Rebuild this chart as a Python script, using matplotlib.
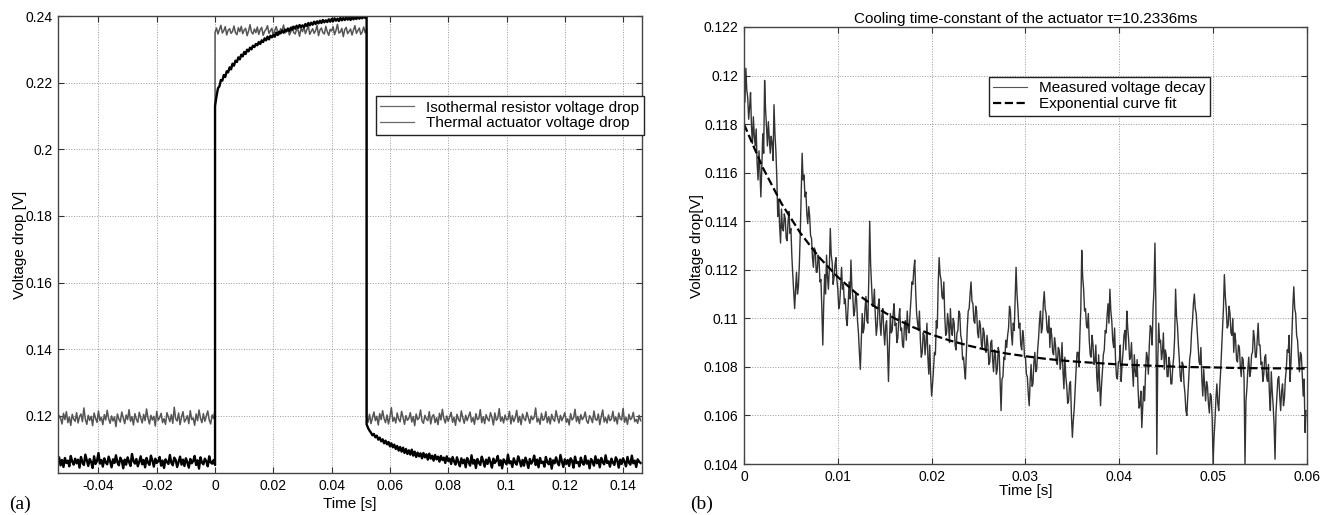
import numpy as np
import matplotlib
matplotlib.use("Agg")
import matplotlib.pyplot as plt
from matplotlib.ticker import FuncFormatter, MultipleLocator

plt.rcParams['font.family'] = ['Liberation Sans', 'DejaVu Sans']

# ---- (a) step response, values in mV, 0.5 ms sampling ----
# three segments: before heating / heating / after
t_pre = np.linspace(-0.054, 0.0, 109)
t_on = np.linspace(0.0, 0.052, 105)
t_off = np.linspace(0.052, 0.146, 189)

iso_pre = [118.2, 120.1, 119.4, 117.6, 120.8, 118.9, 121.3, 118.0, 119.7, 117.2,
           120.5, 119.1, 118.4, 121.0, 117.9, 119.8, 120.6, 118.3, 122.4, 119.0,
           117.5, 120.2, 118.7, 119.9, 117.1, 120.9, 119.3, 118.1, 121.5, 118.6,
           119.6, 117.4, 120.4, 118.8, 121.7, 119.2, 117.8, 120.0, 118.5, 119.7,
           116.8, 120.6, 119.1, 118.2, 121.2, 119.5, 117.7, 120.3, 118.9, 121.9,
           118.4, 119.8, 117.3, 120.7, 119.0, 118.1, 121.1, 119.4, 117.9, 120.5,
           118.6, 122.1, 119.3, 117.6, 120.2, 118.8, 119.9, 117.0, 121.4, 118.7,
           119.5, 120.8, 118.0, 119.2, 117.5, 121.0, 119.6, 118.3, 120.4, 117.8,
           122.6, 119.1, 118.5, 120.9, 117.4, 119.7, 121.3, 118.2, 119.0, 120.1,
           117.7, 121.6, 118.9, 119.4, 117.2, 120.6, 118.6, 121.8, 119.3, 118.0,
           120.7, 118.4, 119.9, 121.5, 118.8, 117.6, 120.3, 119.2, 122.0]
iso_on = [235.1, 236.4, 234.6, 235.9, 237.2, 234.9, 235.6, 236.8, 234.3, 235.7,
          236.2, 234.8, 235.4, 237.0, 235.0, 234.4, 236.5, 235.3, 236.9, 234.7,
          235.8, 236.3, 234.1, 235.5, 237.4, 235.2, 234.6, 236.1, 235.0, 236.7,
          234.5, 235.9, 236.6, 234.2, 235.4, 236.0, 237.1, 234.8, 235.6, 236.3,
          234.0, 235.7, 236.8, 235.1, 234.4, 236.2, 235.5, 237.3, 234.9, 235.8,
          236.4, 234.3, 235.2, 236.9, 235.0, 234.6, 236.1, 235.7, 233.9, 236.5,
          235.3, 236.7, 234.7, 235.9, 237.0, 234.5, 235.4, 236.2, 234.8, 235.6,
          237.2, 234.1, 235.8, 236.4, 235.0, 234.6, 236.9, 235.3, 234.2, 236.0,
          235.5, 236.8, 234.4, 235.7, 237.5, 234.9, 235.2, 236.3, 233.8, 235.9,
          236.6, 234.7, 235.4, 236.1, 234.3, 235.8, 237.1, 234.8, 235.6, 236.4,
          234.5, 235.2, 236.7, 235.0, 236.0]
iso_off = [119.8, 118.1, 120.5, 117.7, 119.4, 121.2, 118.6, 119.9, 117.3, 120.7,
           118.9, 121.6, 119.2, 118.0, 120.3, 117.6, 119.7, 122.5, 118.4, 119.5,
           117.9, 120.9, 119.0, 118.3, 121.4, 119.6, 117.5, 120.1, 118.7, 119.3,
           121.0, 118.2, 119.8, 117.1, 120.6, 118.9, 119.4, 121.8, 118.5, 117.8,
           120.2, 119.1, 118.6, 121.3, 117.6, 119.9, 120.4, 118.0, 119.5, 117.4,
           120.8, 118.8, 122.0, 119.3, 117.9, 120.0, 118.4, 119.7, 121.1, 118.1,
           119.6, 117.2, 120.5, 119.0, 118.3, 121.5, 119.4, 117.8, 120.2, 118.6,
           119.9, 121.2, 118.2, 119.5, 117.5, 120.7, 118.9, 119.2, 121.9, 118.0,
           119.8, 117.7, 120.4, 119.1, 118.5, 121.0, 119.6, 117.3, 120.9, 118.7,
           119.3, 122.2, 118.4, 119.7, 117.9, 120.3, 118.8, 119.0, 121.4, 117.6,
           120.1, 118.3, 119.5, 121.7, 118.1, 119.9, 117.4, 120.6, 119.2, 118.6,
           121.1, 119.4, 117.8, 120.0, 118.9, 119.6, 122.4, 118.2, 119.3, 117.5,
           120.8, 118.7, 119.1, 121.3, 118.0, 119.8, 117.6, 120.5, 119.0, 118.4,
           121.6, 119.5, 117.9, 120.2, 118.6, 119.7, 121.0, 118.1, 119.2, 117.3,
           120.7, 118.8, 119.4, 122.0, 118.3, 119.9, 117.7, 120.4, 118.9, 119.6,
           121.2, 118.5, 117.8, 120.1, 119.3, 118.0, 121.5, 119.0, 118.7, 120.6,
           117.4, 119.8, 121.8, 118.2, 119.5, 117.9, 120.3, 118.6, 119.1, 121.4,
           118.4, 119.7, 117.6, 120.9, 119.2, 118.8, 122.3, 118.1, 119.6, 117.5,
           120.5, 118.9, 119.4, 121.1, 118.3, 119.0, 117.8, 120.2, 118.6]

act_pre = [106.0, 107.6, 105.2, 106.8, 104.7, 107.4, 105.9, 106.6, 104.9, 108.0,
           106.3, 105.4, 107.2, 105.8, 106.9, 104.5, 107.7, 106.1, 105.3, 108.4,
           106.7, 105.0, 107.1, 106.2, 104.4, 107.9, 105.6, 106.5, 108.9, 105.7,
           106.8, 104.8, 107.3, 106.0, 105.5, 107.8, 106.4, 104.6, 107.0, 105.9,
           108.2, 106.1, 105.2, 107.5, 106.6, 104.3, 106.9, 105.4, 107.6, 106.2,
           105.0, 108.6, 106.5, 105.7, 107.1, 104.9, 106.3, 107.9, 105.5, 106.8,
           104.6, 107.4, 106.0, 105.3, 108.1, 106.7, 104.8, 107.2, 105.9, 106.4,
           107.7, 105.1, 106.6, 104.4, 107.0, 106.2, 105.6, 108.3, 106.0, 105.2,
           107.5, 106.8, 104.7, 106.3, 107.8, 105.4, 106.9, 105.0, 107.3, 106.1,
           104.5, 107.1, 105.8, 106.5, 108.0, 105.3, 106.7, 104.2, 107.6, 106.0,
           105.5, 107.2, 106.4, 104.9, 107.9, 106.1, 105.7, 106.8, 105.3]
act_on = [213.0, 215.9, 218.3, 218.9, 220.8, 220.6, 222.3, 221.7, 223.4, 223.1,
          224.6, 224.0, 225.7, 225.1, 226.6, 226.2, 227.6, 227.0, 228.4, 227.9,
          229.2, 228.6, 229.9, 229.4, 230.5, 230.0, 231.1, 230.7, 231.6, 231.2,
          232.2, 231.6, 232.7, 232.2, 233.3, 232.7, 233.8, 233.0, 234.1, 233.6,
          234.3, 233.8, 235.0, 234.3, 235.3, 234.8, 235.6, 235.0, 235.9, 235.4,
          236.2, 235.5, 236.5, 235.9, 236.8, 236.2, 237.1, 236.4, 237.3, 236.7,
          237.2, 236.6, 237.6, 237.0, 237.9, 237.2, 238.0, 237.4, 238.3, 237.6,
          238.4, 237.8, 238.6, 237.9, 238.8, 238.1, 238.7, 238.2, 239.0, 238.3,
          239.1, 238.4, 239.3, 238.6, 239.2, 238.5, 239.5, 238.7, 239.4, 238.8,
          239.6, 238.9, 239.5, 238.8, 239.8, 239.0, 239.6, 239.1, 239.9, 239.2,
          239.7, 239.3, 240.0, 239.4, 239.8]
act_off = [117.5, 116.4, 115.6, 115.0, 114.2, 114.6, 113.6, 114.1, 112.9, 113.5,
           112.4, 113.0, 111.8, 112.6, 111.5, 112.2, 110.9, 111.8, 110.6, 111.4,
           110.1, 111.0, 109.6, 110.7, 109.3, 110.5, 108.9, 110.1, 108.6, 109.7,
           108.4, 109.9, 108.1, 109.3, 107.7, 109.0, 107.9, 108.8, 107.3, 108.9,
           107.6, 108.5, 106.9, 108.7, 107.2, 108.1, 106.6, 108.3, 107.0, 107.8,
           106.3, 108.0, 106.8, 107.5, 105.9, 107.9, 106.5, 107.2, 105.6, 107.7,
           106.4, 105.4, 107.6, 106.1, 104.9, 107.3, 105.8, 106.9, 104.6, 107.4,
           106.2, 105.1, 108.2, 105.7, 106.8, 104.4, 107.1, 106.0, 105.3, 107.8,
           106.5, 104.8, 106.9, 105.6, 107.5, 106.1, 104.5, 107.2, 105.9, 106.6,
           108.0, 105.2, 106.7, 104.3, 107.0, 106.3, 105.5, 108.4, 105.8, 106.4,
           104.7, 107.3, 106.0, 105.4, 107.9, 106.6, 104.9, 106.8, 105.1, 107.5,
           106.2, 104.4, 107.1, 105.7, 106.5, 108.1, 105.3, 106.9, 104.6, 107.4,
           105.9, 106.3, 104.8, 107.7, 106.1, 105.5, 107.2, 104.2, 106.7, 105.8,
           107.6, 106.0, 105.2, 108.3, 106.4, 104.7, 107.0, 105.6, 106.8, 105.0,
           107.3, 106.5, 104.5, 107.8, 105.9, 106.2, 104.9, 107.5, 106.0, 105.4,
           108.0, 105.7, 106.6, 104.3, 107.1, 106.3, 105.1, 107.9, 105.8, 106.9,
           104.6, 107.4, 106.1, 105.5, 108.2, 105.9, 106.4, 104.8, 107.2, 106.0,
           105.3, 107.6, 106.7, 104.5, 106.9, 105.6, 107.3, 106.2, 104.9, 107.7,
           106.0, 105.4, 108.1, 105.8, 106.6, 104.7, 107.0, 106.3, 105.9]

# ---- (b) cooling decay, values in mV, 0.1 ms sampling ----
decay_mv = [
    119.6, 118.9, 120.3, 119.4, 119.1, 118.2, 118.7, 119.3, 117.9, 117.2,
    118.3, 117.5, 117.1, 117.8, 116.4, 115.7, 116.9, 116.1, 115.0, 116.2,
    117.6, 116.8, 119.8, 118.6, 117.9, 117.1, 118.1, 117.4, 116.8, 117.5,
    117.2, 116.5, 118.8, 117.6, 116.9, 115.8, 114.2, 114.9, 113.8, 113.1,
    114.5, 113.7, 113.6, 114.3, 114.1, 113.3, 113.2, 114.0, 114.4, 113.5,
    113.7, 112.6, 111.8, 111.1, 110.4, 111.2, 111.9, 111.0, 111.3, 112.2,
    113.5, 115.2, 116.8, 115.7, 115.9, 115.0, 115.2, 114.3, 113.9, 114.6,
    114.2, 113.4, 113.3, 112.5, 112.1, 112.9, 112.8, 111.9, 111.9, 112.6,
    112.4, 111.5, 111.6, 110.4, 108.9, 110.6, 111.8, 111.0, 112.6, 111.7,
    111.2, 112.1, 113.7, 112.6, 112.3, 111.4, 111.7, 112.2, 112.5, 111.6,
    111.2, 110.4, 110.6, 111.3, 112.1, 111.2, 111.4, 110.6, 110.8, 110.0,
    109.7, 110.5, 111.5, 110.8, 112.4, 111.3, 110.9, 110.1, 110.3, 111.0,
    110.8, 109.9, 109.4, 108.6, 107.9, 109.1, 110.2, 109.4, 109.6, 110.4,
    110.9, 109.9, 109.8, 111.6, 114.0, 112.2, 111.3, 110.5, 110.6, 111.2,
    110.1, 109.3, 109.7, 110.5, 110.8, 109.8, 109.3, 110.1, 110.4, 109.5,
    108.9, 109.7, 109.9, 108.8, 107.4, 108.9, 110.2, 109.4, 109.5, 110.2,
    110.6, 109.7, 109.8, 109.0, 109.2, 110.0, 110.4, 109.5, 109.6, 108.9,
    108.8, 109.7, 109.9, 109.1, 110.3, 109.6, 109.4, 110.2, 110.8, 111.5,
    111.4, 112.0, 112.4, 111.1, 110.2, 109.8, 109.5, 110.3, 109.1, 108.4,
    108.6, 109.4, 109.3, 108.5, 109.0, 109.8, 108.4, 107.7, 108.9, 107.6,
    106.8, 107.3, 107.9, 108.6, 108.5, 109.9, 109.6, 111.4, 112.5, 111.8,
    111.6, 110.9, 110.8, 111.5, 110.1, 109.3, 109.4, 110.2, 109.8, 109.0,
    110.4, 109.6, 109.3, 110.0, 109.8, 108.9, 108.7, 109.4, 109.5, 110.3,
    110.2, 109.3, 109.1, 108.3, 108.4, 107.9, 107.5, 108.6, 109.6, 110.3,
    110.4, 111.0, 111.5, 110.7, 110.6, 109.9, 109.8, 110.5, 110.3, 109.4,
    109.2, 109.9, 109.7, 108.9, 108.8, 109.6, 109.4, 108.7, 108.6, 109.3,
    108.9, 108.1, 108.2, 109.0, 109.1, 108.3, 107.8, 108.7, 108.5, 107.7,
    107.9, 108.8, 108.6, 107.4, 106.2, 107.5, 107.6, 108.4, 108.3, 109.1,
    108.8, 109.3, 109.6, 110.5, 110.3, 109.4, 108.9, 109.8, 109.5, 110.8,
    112.1, 111.0, 110.4, 109.6, 109.8, 108.9, 108.7, 109.5, 109.2, 108.4,
    108.4, 107.7, 107.6, 106.9, 106.4, 107.4, 108.1, 107.2, 107.3, 108.2,
    108.6, 107.8, 107.9, 108.7, 109.2, 109.9, 110.3, 109.4, 109.6, 110.6,
    111.1, 110.4, 110.2, 109.5, 109.4, 110.1, 108.8, 109.6, 109.3, 108.6,
    108.5, 109.2, 108.9, 108.2, 108.1, 108.8, 108.7, 107.9, 108.3, 109.0,
    107.8, 107.1, 108.4, 107.6, 107.2, 106.5, 106.6, 107.3, 107.4, 106.0,
    105.1, 105.8, 106.3, 107.1, 107.9, 108.6, 108.6, 108.0, 109.3, 110.4,
    112.8, 111.7, 111.2, 110.3, 110.4, 109.7, 109.6, 110.2, 109.1, 108.5,
    108.4, 109.3, 108.9, 108.1, 108.2, 108.9, 107.6, 107.0, 108.5, 107.4,
    106.4, 107.2, 107.8, 108.5, 108.7, 109.5, 109.4, 110.1, 110.6, 109.8,
    111.2, 110.3, 109.9, 109.1, 108.8, 109.6, 108.3, 107.6, 107.5, 108.2,
    108.2, 108.9, 107.4, 108.1, 108.6, 109.3, 109.5, 108.7, 110.3, 109.6,
    109.1, 108.3, 108.4, 109.0, 107.9, 107.2, 108.5, 107.8, 107.6, 108.3,
    107.1, 106.3, 106.4, 107.0, 105.5, 106.4, 107.2, 106.6, 107.8, 108.6,
    108.4, 107.7, 108.9, 109.7, 109.6, 108.9, 110.4, 111.2, 113.1, 110.6,
    104.4, 108.2, 109.8, 109.0, 109.1, 108.3, 108.6, 109.4, 107.9, 108.7,
    108.5, 107.6, 107.6, 108.4, 108.1, 107.3, 107.3, 108.0, 108.4, 109.2,
    111.2, 110.1, 109.7, 108.9, 108.3, 107.6, 107.4, 108.2, 108.1, 107.3,
    106.9, 106.2, 106.0, 106.8, 107.5, 108.3, 108.6, 109.4, 109.9, 110.6,
    111.0, 110.4, 110.2, 109.5, 108.9, 108.2, 108.1, 108.8, 107.5, 106.8,
    107.9, 107.2, 106.6, 107.4, 107.2, 106.5, 106.1, 106.9, 106.8, 105.9,
    104.0, 105.1, 105.8, 106.7, 107.3, 106.5, 106.2, 107.1, 107.8, 108.7,
    109.5, 110.4, 111.8, 110.9, 110.4, 109.6, 109.7, 110.5, 110.2, 109.4,
    109.3, 110.0, 108.6, 109.4, 109.1, 108.3, 108.2, 108.9, 108.8, 108.0,
    107.6, 108.4, 108.3, 107.5, 104.0, 106.6, 107.1, 107.9, 108.4, 107.6,
    107.8, 108.5, 108.6, 109.5, 109.2, 108.4, 108.4, 109.1, 109.8, 108.9,
    108.9, 108.1, 108.2, 107.4, 107.7, 108.4, 108.5, 107.6, 107.4, 108.1,
    106.9, 106.2, 107.8, 107.0, 106.4, 105.6, 104.2, 106.1, 106.8, 107.5,
    107.6, 106.8, 106.2, 107.0, 107.3, 106.4, 106.7, 107.5, 107.9, 108.7,
    108.6, 109.3, 107.4, 108.2, 109.4, 110.5, 111.3, 110.4, 110.2, 109.3,
    109.1, 108.4, 107.8, 108.6, 108.5, 107.7, 106.8, 107.5, 105.3, 106.2]
t_decay = np.linspace(0.0, 0.0599, len(decay_mv))

# exponential fit read at 2 ms steps
fit_mv = [118.00, 116.21, 114.73, 113.52, 112.52, 111.70, 111.02, 110.47,
          110.01, 109.64, 109.33, 109.08, 108.87, 108.69, 108.55, 108.44,
          108.34, 108.26, 108.20, 108.15, 108.10, 108.07, 108.04, 108.01,
          107.99, 107.98, 107.96, 107.95, 107.94, 107.94, 107.93]
t_fit = np.linspace(0.0, 0.06, len(fit_mv))

t_a = np.concatenate([t_pre, t_on, t_off])
iso = np.array(iso_pre + iso_on + iso_off) / 1000
act = np.array(act_pre + act_on + act_off) / 1000

fig = plt.figure(figsize=(13.29, 5.15), dpi=100)
ax1 = fig.add_axes([0.0436, 0.0816, 0.4395, 0.8873])
ax2 = fig.add_axes([0.5598, 0.099, 0.4236, 0.8486])

fmt = FuncFormatter(lambda v, p: '%g' % round(v, 6))

def style(ax):
    ax.grid(True, linestyle=':', color='#999999', linewidth=0.7)
    ax.tick_params(direction='in', top=True, right=True, labelsize=10,
                   length=4, width=0.8, color='#333333', pad=4)
    for s in ax.spines.values():
        s.set_color('#444444')
        s.set_linewidth(1.0)
    ax.xaxis.set_major_formatter(fmt)
    ax.yaxis.set_major_formatter(fmt)

ax1.plot(t_a, iso, color='#555555', linewidth=1.1, label='Isothermal resistor voltage drop')
ax1.plot(t_a, act, color='#000000', linewidth=1.7, label='Thermal actuator voltage drop')
ax1.set_xlim(-0.0539, 0.1465)
ax1.set_ylim(0.1029, 0.24)
ax1.xaxis.set_major_locator(MultipleLocator(0.02))
ax1.yaxis.set_major_locator(MultipleLocator(0.02))
style(ax1)
ax1.set_xlabel('Time [s]', fontsize=11, labelpad=3)
ax1.set_ylabel('Voltage drop [V]', fontsize=11, labelpad=-1)
leg1 = ax1.legend(loc='upper right', bbox_to_anchor=(1.003, 0.825), fontsize=11,
                  fancybox=False, edgecolor='#222222', framealpha=1,
                  borderaxespad=0, handlelength=2.2, labelspacing=0.1,
                  borderpad=0.3)
for h in leg1.get_lines():
    h.set_color('#6a6a6a')
    h.set_linewidth(0.9)

ax2.plot(t_decay, np.array(decay_mv) / 1000, color='#333333', linewidth=1.0,
         label='Measured voltage decay')
ax2.plot(t_fit, np.array(fit_mv) / 1000, color='black', linestyle='--',
         linewidth=1.6, label='Exponential curve fit')
ax2.set_xlim(0, 0.06)
ax2.set_ylim(0.104, 0.122)
ax2.xaxis.set_major_locator(MultipleLocator(0.01))
ax2.yaxis.set_major_locator(MultipleLocator(0.002))
style(ax2)
ax2.set_xlabel('Time [s]', fontsize=11, labelpad=0)
ax2.set_ylabel('Voltage drop[V]', fontsize=11, labelpad=0)
ax2.set_title('Cooling time-constant of the actuator \u03c4=10.2336ms', fontsize=11, pad=3)
leg2 = ax2.legend(loc='upper right', bbox_to_anchor=(0.828, 0.886), fontsize=11,
                  fancybox=False, edgecolor='#222222', framealpha=1,
                  borderaxespad=0, handlelength=2.2, labelspacing=0.1, borderpad=0.3)
leg2.get_lines()[0].set_linewidth(0.8)
leg2.get_lines()[0].set_color('#555555')

fig.text(0.007, 0.012, '(a)', family='Liberation Serif', fontsize=14)
fig.text(0.519, 0.012, '(b)', family='Liberation Serif', fontsize=14)

fig.savefig('out.png', dpi=100)
